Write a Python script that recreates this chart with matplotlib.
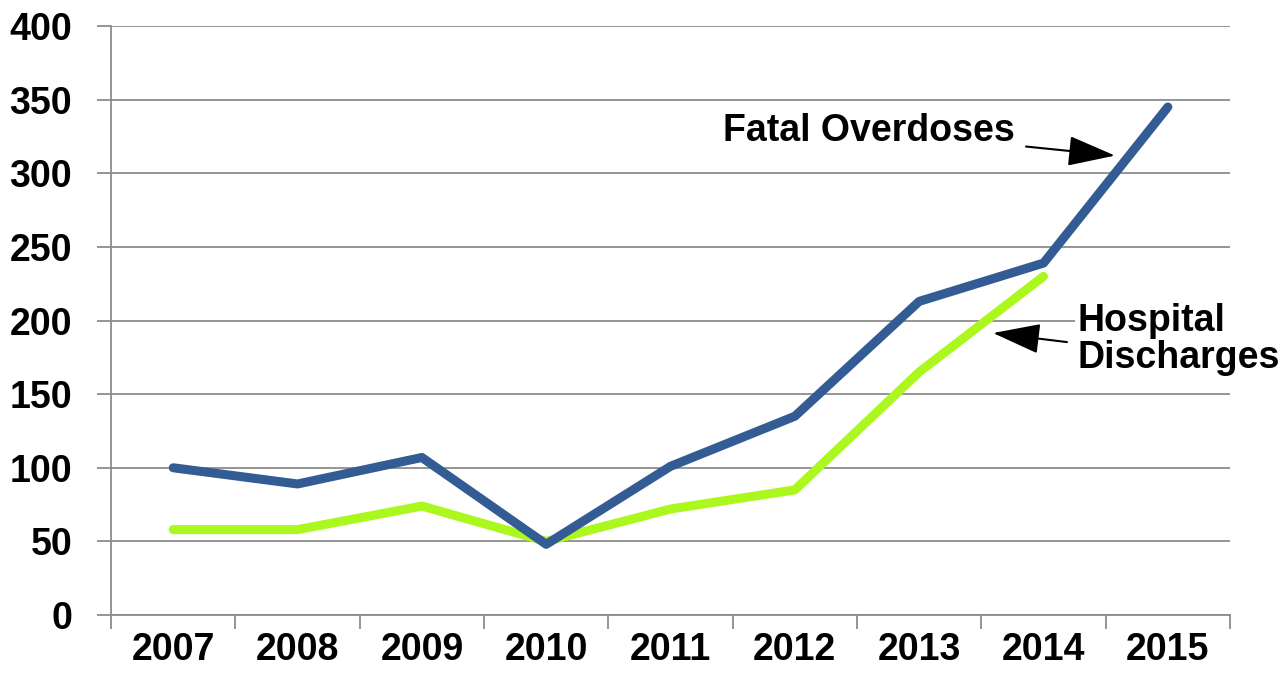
import matplotlib
matplotlib.use("Agg")
import matplotlib.pyplot as plt
import numpy as np

years = ["2007", "2008", "2009", "2010", "2011", "2012", "2013", "2014", "2015"]
fatal_overdoses = [100, 89, 107, 48, 101, 135, 213, 239, 345]
hospital_discharges = [58, 58, 74, 50, 72, 85, 165, 230]

plt.rcParams['font.family'] = ['Liberation Sans', 'DejaVu Sans']
plt.rcParams['font.weight'] = 'bold'

fig = plt.figure(figsize=(12.81, 6.74), dpi=100)
ax = fig.add_axes([0.0867, 0.0875, 0.9602 - 0.0867, 0.9614 - 0.0875])

x = np.arange(len(years))
ax.plot(x[:len(hospital_discharges)], hospital_discharges, color='#acf71e',
        lw=6.5, solid_capstyle='round', solid_joinstyle='round', zorder=3)
ax.plot(x, fatal_overdoses, color='#335c94', lw=6.5,
        solid_capstyle='round', solid_joinstyle='round', zorder=4)

ax.set_xlim(-0.5, len(years) - 0.5)
ax.set_ylim(0, 400)
ax.set_yticks(np.arange(0, 401, 50))
ax.yaxis.grid(True, color='#8c8c8c', lw=1.3)
ax.set_axisbelow(True)

# category labels centred, tick marks on the boundaries
ax.set_xticks(np.arange(-0.5, len(years)), minor=False)
ax.set_xticklabels([])
ax.set_xticks(x, minor=True)
ax.set_xticklabels(years, minor=True, fontsize=27, fontweight='bold')
ax.tick_params(axis='x', which='minor', length=0, pad=12)
ax.tick_params(axis='x', which='major', length=10, color='#8c8c8c', width=1.3)
ax.tick_params(axis='y', length=10, color='#8c8c8c', width=1.3, labelsize=27, pad=18)
for lab in ax.get_yticklabels():
    lab.set_fontweight('bold')

for side in ['top', 'right']:
    ax.spines[side].set_visible(False)
ax.spines['left'].set_color('#8c8c8c')
ax.spines['bottom'].set_color('#8c8c8c')
ax.spines['left'].set_linewidth(1.3)
ax.spines['bottom'].set_linewidth(1.3)

arrow = dict(arrowstyle='-|>,head_length=1.1,head_width=0.35',
             color='black', lw=1.5, shrinkA=6, shrinkB=0)
ax.annotate('Fatal Overdoses', xy=(7.575, 312), xytext=(6.77, 329),
            fontsize=27, fontweight='bold', ha='right', va='center',
            arrowprops=arrow)
ax.annotate('Hospital\nDischarges', xy=(6.594, 191.5), xytext=(7.27, 187),
            fontsize=27, fontweight='bold', ha='left', va='center',
            linespacing=1.05, zorder=5,
            bbox=dict(boxstyle='square,pad=0.05', fc='white', ec='none'),
            arrowprops=dict(arrow, relpos=(0, 0.45)))

fig.savefig('out.png', dpi=100)
